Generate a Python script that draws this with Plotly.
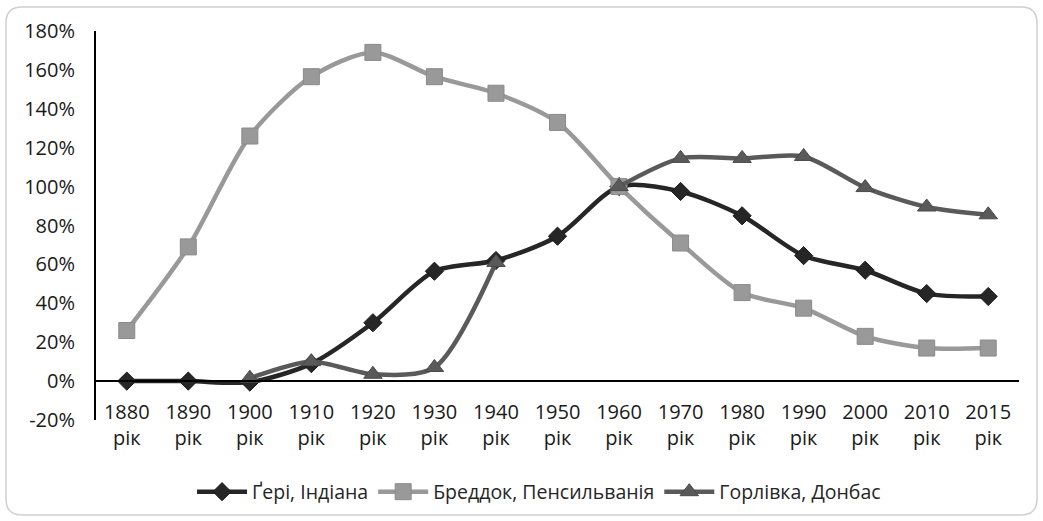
import plotly.graph_objects as go

years = ["1880", "1890", "1900", "1910", "1920", "1930", "1940", "1950",
         "1960", "1970", "1980", "1990", "2000", "2010", "2015"]
tick_text = [y + "<br>рік" for y in years]

gary = [0, 0, -0.5, 9, 30, 56.5, 62, 74.5, 100, 97.5, 85, 64.5, 57, 45, 43.5]
braddock = [26, 69, 126, 156.5, 169, 156.5, 148, 133, 100, 71, 45.5, 37.5, 23, 17, 17]
gorlivka = [None, None, 1.5, 10, 3.5, 7, 61, None, 100, 114.5, 114.5, 115.5, 99.5, 89.5, 85.5]

y_ticks = [-20, 0, 20, 40, 60, 80, 100, 120, 140, 160, 180]

W, H = 1043, 521
L, R, T, B = 96, 1019, 31, 420


def px(x):
    return (x - L) / (R - L)


def py(y):
    return (B - y) / (B - T)


xi = list(range(len(years)))

fig = go.Figure()
fig.add_trace(go.Scatter(
    x=xi, y=gary, name="Ґері, Індіана", mode="lines+markers",
    line=dict(color="#262626", width=4.5, shape="spline", smoothing=0.8),
    marker=dict(symbol="diamond", size=14, color="#262626",
                line=dict(color="#1a1a1a", width=1)),
))
fig.add_trace(go.Scatter(
    x=xi, y=braddock, name="Бреддок, Пенсильванія", mode="lines+markers",
    line=dict(color="#999999", width=4.5, shape="spline", smoothing=0.8),
    marker=dict(symbol="square", size=16, color="#999999",
                line=dict(color="#8a8a8a", width=1)),
))
fig.add_trace(go.Scatter(
    x=xi, y=gorlivka, name="Горлівка, Донбас", mode="lines+markers",
    connectgaps=False,
    line=dict(color="#5a5a5a", width=4.5, shape="spline", smoothing=0.8),
    marker=dict(symbol="triangle-up", size=16, color="#5a5a5a",
                line=dict(color="#4a4a4a", width=1)),
))

# rounded chart border
x0, y0, x1, y1, r = 6, 7, 1037, 515, 16
path = (
    f"M {px(x0 + r)} {py(y0)} L {px(x1 - r)} {py(y0)} "
    f"Q {px(x1)} {py(y0)} {px(x1)} {py(y0 + r)} "
    f"L {px(x1)} {py(y1 - r)} Q {px(x1)} {py(y1)} {px(x1 - r)} {py(y1)} "
    f"L {px(x0 + r)} {py(y1)} Q {px(x0)} {py(y1)} {px(x0)} {py(y1 - r)} "
    f"L {px(x0)} {py(y0 + r)} Q {px(x0)} {py(y0)} {px(x0 + r)} {py(y0)} Z"
)

fig.update_layout(
    width=W, height=H,
    margin=dict(l=L, r=W - R, t=T, b=H - B, autoexpand=False),
    paper_bgcolor="white", plot_bgcolor="white",
    font=dict(family="Open Sans, Lato, sans-serif", color="#262626", size=18),
    showlegend=True,
    legend=dict(orientation="h", x=0.48, xanchor="center", y=py(492), yanchor="middle",
                font=dict(size=19.5), itemwidth=50, tracegroupgap=0),
    xaxis=dict(
        range=[-0.5, 14.5], tickmode="array", tickvals=xi, ticktext=tick_text,
        showgrid=False, zeroline=False, showline=True, linecolor="#000000", linewidth=2,
        anchor="free", position=0.1, ticks="", ticklabelstandoff=13, automargin=False,
        tickfont=dict(size=20, color="#1a1a1a"),
    ),
    yaxis=dict(
        range=[-20, 180], tickmode="array", tickvals=y_ticks,
        ticktext=[f"{v}%" for v in y_ticks], automargin=False,
        showgrid=False, zeroline=False, showline=True, linecolor="#000000", linewidth=2,
        ticks="", ticklabelstandoff=15, tickfont=dict(size=20, color="#1a1a1a"),
    ),
    shapes=[dict(type="path", path=path, xref="paper", yref="paper",
                 line=dict(color="#d0d0d0", width=1.5), layer="below")],
)

fig.write_html("out.html", config={"displayModeBar": False},
               post_script="document.body.style.margin='0';document.body.style.padding='0';")
